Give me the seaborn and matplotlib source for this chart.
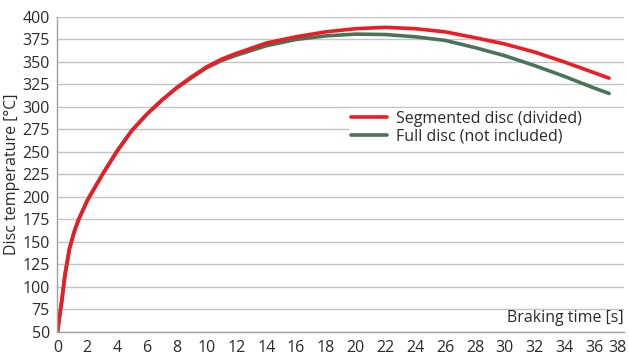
import matplotlib
matplotlib.use("Agg")
import matplotlib.pyplot as plt
import matplotlib.transforms as mtransforms
import seaborn as sns
import pandas as pd
from matplotlib.patches import Rectangle

# Braking time [s]
time_s = [0, 0.3, 0.5, 0.8, 1.1, 1.4, 2, 3, 4, 5, 6, 7, 8, 9, 10, 11, 12, 14, 16, 18,
          20, 22, 24, 26, 28, 30, 32, 34, 36, 37]
# Disc temperature [°C]
segmented_temp = [50, 86, 113, 142, 160, 174, 196, 224.5, 251, 274, 292, 307.5, 321.5, 333.5, 344.5, 353, 359.5, 371, 378, 383.5,
                  387, 388.5, 387, 383.5, 377, 370, 361, 350, 338, 332]
full_temp = [50, 86, 113, 142, 160, 174, 196, 224.5, 251, 274, 292, 307.5, 321, 332.5, 343.5, 351.5, 357.5, 368, 375, 379,
             381, 380.5, 378, 374, 366, 357, 346, 334, 321, 315]

series_names = ["Segmented disc (divided)", "Full disc (not included)"]
series_colors = ["#ED1C24", "#4A7457"]

df = pd.concat([
    pd.DataFrame({"t": time_s, "T": segmented_temp, "series": series_names[0]}),
    pd.DataFrame({"t": time_s, "T": full_temp, "series": series_names[1]}),
])

sns.set_theme(style="white")
plt.rcParams["font.family"] = ["Open Sans", "DejaVu Sans"]
text_color = "#2b2b2b"
fs = 11.5

fig = plt.figure(figsize=(6.29, 3.58), dpi=100)
ax = fig.add_axes([0.0914, 0.0735, 0.9006, 0.879])

# full disc drawn first so the segmented curve sits on top
sns.lineplot(data=df[df.series == series_names[1]], x="t", y="T", color=series_colors[1],
             linewidth=2.6, ax=ax, label=series_names[1], sort=False)
sns.lineplot(data=df[df.series == series_names[0]], x="t", y="T", color=series_colors[0],
             linewidth=2.6, ax=ax, label=series_names[0], sort=False)
for ln in ax.get_lines():
    ln.set_solid_joinstyle("round")
    ln.set_solid_capstyle("round")

ax.set_xlim(0, 38)
ax.set_ylim(50, 400)
ax.set_xticks(range(0, 39, 2))
ax.set_yticks(range(50, 401, 25))
ax.yaxis.grid(True, color="#c4c4c4", linewidth=1.0)
ax.xaxis.grid(False)
ax.set_axisbelow(True)

for side in ["top", "right"]:
    ax.spines[side].set_visible(False)
for side in ["left", "bottom"]:
    ax.spines[side].set_color("#a0a0a0")
    ax.spines[side].set_linewidth(1.0)

ax.tick_params(axis="both", which="major", length=4, width=1, color="#a0a0a0",
               labelsize=fs, labelcolor=text_color, pad=1.5, direction="out")
ax.tick_params(axis="x", pad=2)

# keep the last x label inside the canvas
last = ax.get_xticklabels()[-1]
last.set_transform(last.get_transform() + mtransforms.ScaledTranslation(-5 / 72, 0, fig.dpi_scale_trans))

ax.set_xlabel("")
ax.set_ylabel("Disc temperature [°C]", fontsize=fs, color=text_color, labelpad=2)
ax.text(0.999, 0.045, "Braking time [s]", transform=ax.transAxes, ha="right", va="center",
        fontsize=fs, color=text_color)

# white backing behind the legend
ax.add_patch(Rectangle((0.514, 0.573), 0.486, 0.137, transform=ax.transAxes,
                       facecolor="white", edgecolor="none", zorder=1))

handles, labels = ax.get_legend_handles_labels()
order = [labels.index(n) for n in series_names]
leg = ax.legend([handles[i] for i in order], [labels[i] for i in order],
                loc="upper left", bbox_to_anchor=(0.512, 0.712), frameon=False,
                fontsize=fs, handlelength=2.3, handletextpad=0.55, labelspacing=0.1,
                borderaxespad=0, borderpad=0.2)
for t in leg.get_texts():
    t.set_color(text_color)

fig.savefig("out.png", dpi=100)
